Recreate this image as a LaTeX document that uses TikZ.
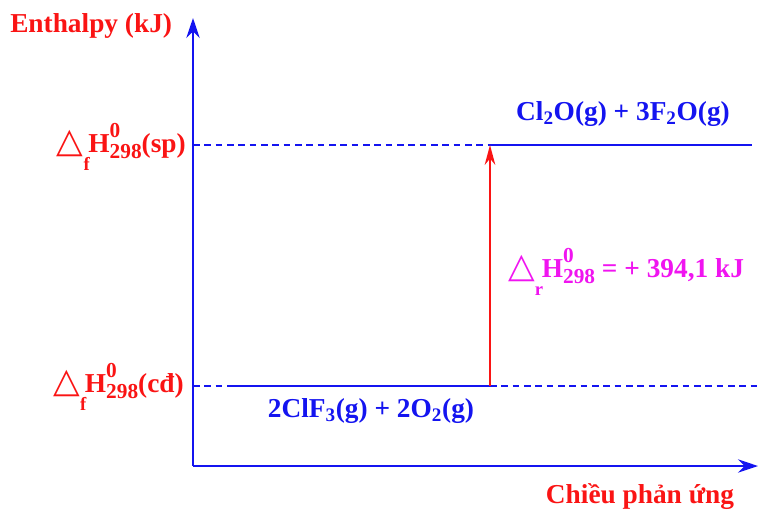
\documentclass[tikz,border=0pt]{standalone}
\usepackage{fontspec}
\setmainfont{Liberation Serif}
\newfontfamily\symfont{DejaVu Sans}
\usetikzlibrary{arrows.meta}
\definecolor{axblue}{RGB}{20,20,240}
\definecolor{lblred}{RGB}{250,20,20}
\definecolor{lblmag}{RGB}{240,20,240}
\newcommand{\tri}{{\symfont\mdseries\fontsize{26}{26}\selectfont\char"25B3}}
\newcommand{\supsub}[2]{\rlap{\raisebox{1.15ex}{\fontsize{16}{16}\selectfont #1}}\raisebox{-0.55ex}{\fontsize{16}{16}\selectfont #2}}
\newcommand{\dH}[1]{\tri\raisebox{-1.5ex}{\fontsize{14}{14}\selectfont #1}\kern-1pt H\supsub{0}{298}}
\tikzset{
  lbl/.style={font=\bfseries\fontsize{20.5}{23}\selectfont, inner sep=0pt},
  axis/.style={axblue, line width=2pt, -{Stealth[length=15pt,width=10pt]}},
  level/.style={axblue, line width=1.5pt},
  guide/.style={axblue, line width=1pt, dash pattern=on 5pt off 3.5pt},
  rxn/.style={lblred, line width=1.4pt, -{Stealth[length=15pt,width=8pt]}}
}
\begin{document}
\begin{tikzpicture}[x=0.75pt,y=-0.75pt]
\useasboundingbox (0,0) rectangle (763,511);
% axes
\coordinate (O) at (193,466);
\coordinate (ytop) at (193,18);
\coordinate (xend) at (758,466);
\draw[axis] (O) -- (ytop);
\draw[axis] (O) -- (xend);
% levels
\coordinate (yl2) at (193,145);
\coordinate (p2) at (490,145);
\coordinate (e2) at (752,145);
\coordinate (yl1) at (193,386);
\coordinate (s1) at (232,386);
\coordinate (p1) at (490,386);
\coordinate (e1) at (757,386);
\draw[guide] (yl2) -- (p2);
\draw[level] (p2) -- (e2);
\draw[guide] (yl1) -- (s1);
\draw[level] (s1) -- (p1);
\draw[guide] (p1) -- (e1);
\draw[rxn] (p1) -- (p2);
% labels
\node[lbl, lblred, anchor=west] (ylab) at (10,26) {Enthalpy (kJ)};
\node[lbl, lblred, anchor=base east] (hsp) at (186,152) {\dH{f}(sp)};
\node[lbl, lblred, anchor=base east] (hcd) at (184,392) {\dH{f}(cđ)};
\node[lbl, axblue] (prod) at (623,114) {Cl\textsubscript{2}O(g) + 3F\textsubscript{2}O(g)};
\node[lbl, axblue] (reac) at (371,411) {2ClF\textsubscript{3}(g) + 2O\textsubscript{2}(g)};
\node[lbl, lblmag, anchor=base west] (dr) at (508,277) {\dH{r} = + 394,1 kJ};
\node[lbl, lblred] (xlab) at (640,497) {Chiều phản ứng};
\end{tikzpicture}
\end{document}
